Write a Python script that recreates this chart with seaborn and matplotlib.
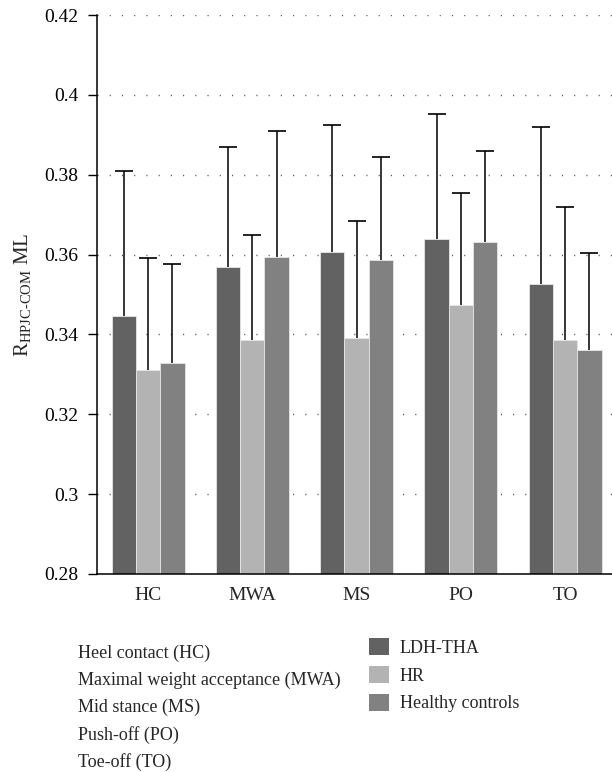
import matplotlib
matplotlib.use('Agg')
import matplotlib.pyplot as plt
import matplotlib.patches as mpatches
import numpy as np
import pandas as pd
import seaborn as sns

phases = ['HC', 'MWA', 'MS', 'PO', 'TO']
groups = ['LDH-THA', 'HR', 'Healthy controls']

mean_ldh = [0.3446, 0.3570, 0.3606, 0.3640, 0.3527]
mean_hr = [0.3311, 0.3385, 0.3392, 0.3474, 0.3385]
mean_hc = [0.3328, 0.3595, 0.3586, 0.3631, 0.3360]

sd_ldh = [0.0363, 0.0300, 0.0319, 0.0311, 0.0392]
sd_hr = [0.0281, 0.0265, 0.0293, 0.0281, 0.0333]
sd_hc = [0.0248, 0.0315, 0.0258, 0.0228, 0.0243]

yticks = [0.28, 0.3, 0.32, 0.34, 0.36, 0.38, 0.4, 0.42]
ytick_labels = ['0.28', '0.3', '0.32', '0.34', '0.36', '0.38', '0.4', '0.42']

phase_names = ['Heel contact (HC)', 'Maximal weight acceptance (MWA)',
               'Mid stance (MS)', 'Push-off (PO)', 'Toe-off (TO)']

colors = ['#626262', '#b3b3b3', '#818181']

df = pd.DataFrame({
    'phase': phases * 3,
    'group': [g for g in groups for _ in phases],
    'value': mean_ldh + mean_hr + mean_hc,
    'sd': sd_ldh + sd_hr + sd_hc,
})

sns.set_style('ticks')
plt.rcParams['font.family'] = ['Liberation Serif', 'DejaVu Serif']
plt.rcParams['mathtext.fontset'] = 'custom'
plt.rcParams['mathtext.rm'] = 'Liberation Serif'

fig = plt.figure(figsize=(6.12, 7.72), dpi=100)
ax = fig.add_axes([97 / 612, 1 - 574 / 772, 515 / 612, 559 / 772])

sns.barplot(data=df, x='phase', y='value', hue='group', order=phases,
            hue_order=groups, palette=colors, errorbar=None, width=0.7,
            edgecolor='#e6e6e6', linewidth=0.6, legend=False, ax=ax,
            zorder=2)

# error bars (upper only) at bar centres
for bars, g in zip(ax.containers, groups):
    sub = df[df['group'] == g].set_index('phase').loc[phases]
    xs = [b.get_x() + b.get_width() / 2 for b in bars]
    ys = np.array([b.get_height() + b.get_y() for b in bars])
    eb = ax.errorbar(xs, ys, yerr=[np.zeros(len(xs)), sub['sd'].values],
                     fmt='none', ecolor='black', elinewidth=1.1, capsize=6.5,
                     capthick=1.2, zorder=3)
    # hide the cap sitting on the bar top
    for cap in eb[1]:
        if np.allclose(cap.get_ydata(), ys):
            cap.set_visible(False)

ax.set_ylim(0.28, 0.42)
ax.set_xlim(-0.49, 4.45)
ax.set_yticks(yticks)
ax.set_yticklabels(ytick_labels)
ax.yaxis.grid(True, linestyle=(0, (0.8, 8)), color='#555555', linewidth=1.0)
ax.set_axisbelow(True)
ax.set_xlabel('')
ax.set_ylabel(r'R$_{\mathrm{HPJC\text{-}COM}}$ ML', fontsize=15, labelpad=7)
ax.tick_params(axis='x', length=0, pad=9, labelsize=14)
ax.tick_params(axis='y', length=6.5, width=1, pad=7, labelsize=14, colors='black')
for s in ['top', 'right']:
    ax.spines[s].set_visible(False)
for s in ['left', 'bottom']:
    ax.spines[s].set_color('black')
    ax.spines[s].set_linewidth(1.1)

# phase names under the chart
for i, name in enumerate(phase_names):
    fig.text(78 / 612, 1 - (653 + 27.2 * i) / 772, name, fontsize=13,
             va='center', ha='left')

handles = [mpatches.Patch(facecolor=c, edgecolor='none') for c in colors]
fig.legend(handles, groups, loc='upper left',
           bbox_to_anchor=(369 / 612, 1 - 638 / 772), frameon=False,
           fontsize=13, handlelength=1.1, handleheight=1.1,
           labelspacing=0.5, handletextpad=0.6, borderpad=0,
           borderaxespad=0)

fig.savefig('out.png', dpi=100)
